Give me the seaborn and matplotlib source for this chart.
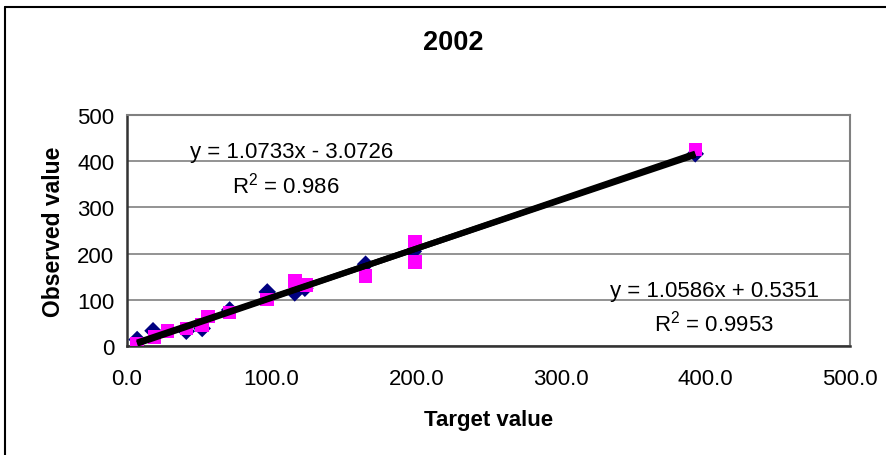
import numpy as np
import pandas as pd
import matplotlib
matplotlib.use("Agg")
import matplotlib.pyplot as plt
from matplotlib.lines import Line2D
from matplotlib.ticker import FormatStrFormatter
import seaborn as sns

# ---- data ----
title = "2002"
x_label = "Target value"
y_label = "Observed value"

navy_x = [7, 18, 41, 52, 71, 97, 116, 123, 165, 198, 393]
navy_y = [14, 33, 32, 38, 78, 117, 115, 125, 177, 205, 416]

magenta_x = [7, 19, 28, 41, 52, 56, 71, 97, 116, 124, 165, 199, 199, 393]
magenta_y = [5, 19, 33, 38, 45, 64, 73, 101, 141, 132, 152, 225, 182, 425]

eq1_text = "y = 1.0733x - 3.0726"
r1_text = "R$^2$ = 0.986"
eq2_text = "y = 1.0586x + 0.5351"
r2_text = "R$^2$ = 0.9953"

x_ticks = [0, 100, 200, 300, 400, 500]
y_ticks = [0, 100, 200, 300, 400, 500]

# ---- style ----
sns.set_theme(style="white")
plt.rcParams["font.family"] = ["Liberation Sans", "DejaVu Sans"]
plt.rcParams["mathtext.fontset"] = "custom"
plt.rcParams["mathtext.rm"] = "Liberation Sans"
plt.rcParams["mathtext.it"] = "Liberation Sans"
plt.rcParams["text.color"] = "black"
plt.rcParams["axes.labelcolor"] = "black"
plt.rcParams["xtick.color"] = "black"
plt.rcParams["ytick.color"] = "black"

W, H = 886, 456
fig = plt.figure(figsize=(W / 100, H / 100), dpi=100)
fig.patch.set_facecolor("white")
ax = fig.add_axes([127 / W, 1 - 347 / H, (850 - 127) / W, (347 - 116) / H])

df1 = pd.DataFrame({"x": navy_x, "y": navy_y})
df2 = pd.DataFrame({"x": magenta_x, "y": magenta_y})

sns.scatterplot(data=df1, x="x", y="y", marker="D", s=80, color="#000080",
                edgecolor="none", linewidth=0, ax=ax, zorder=3)
sns.scatterplot(data=df2, x="x", y="y", marker="s", s=95, color="#FF00FF",
                edgecolor="none", linewidth=0, ax=ax, zorder=4)
sns.regplot(data=df1, x="x", y="y", scatter=False, ci=None, truncate=True,
            line_kws=dict(color="black", lw=4.3, zorder=5, solid_capstyle="butt"), ax=ax)
sns.regplot(data=df2, x="x", y="y", scatter=False, ci=None, truncate=True,
            line_kws=dict(color="black", lw=4.3, zorder=5, solid_capstyle="butt"), ax=ax)

ax.set_xlim(0, 500)
ax.set_ylim(0, 500)
ax.set_xticks(x_ticks)
ax.set_yticks(y_ticks)
ax.xaxis.set_major_formatter(FormatStrFormatter("%.1f"))
ax.yaxis.grid(True, color="#808080", lw=1.2)
ax.set_axisbelow(True)
ax.tick_params(axis="both", labelsize=16, colors="black", direction="out",
               length=6, width=1.2, pad=4)
ax.tick_params(axis="x", pad=10)
ax.tick_params(axis="y", pad=3)
for s in ["top", "right"]:
    ax.spines[s].set_color("#808080")
    ax.spines[s].set_linewidth(1.5)
for s in ["left", "bottom"]:
    ax.spines[s].set_color("#333333")
    ax.spines[s].set_linewidth(1.8)

ax.set_xlabel(x_label, fontsize=16, fontweight="bold", labelpad=14)
ax.set_ylabel(y_label, fontsize=16.5, fontweight="bold", labelpad=9)

ax.text(114, 421, eq1_text, fontsize=16, ha="center", va="center", zorder=6)
ax.text(110, 350, r1_text, fontsize=16, ha="center", va="center", zorder=6)
ax.text(406, 120, eq2_text, fontsize=16, ha="center", va="center", zorder=6)
ax.text(406, 50, r2_text, fontsize=16, ha="center", va="center", zorder=6)

fig.text(453 / W, 1 - 43 / H, title, fontsize=19.5, fontweight="bold",
         ha="center", va="center")

# outer chart frame (extends past the right/bottom edges)
fig.add_artist(Line2D([5 / W, 5 / W], [0, 1 - 8 / H], color="black", lw=1.5,
                      transform=fig.transFigure))
fig.add_artist(Line2D([5 / W, 1], [1 - 8 / H, 1 - 8 / H], color="black", lw=1.5,
                      transform=fig.transFigure))

fig.savefig("out.png", dpi=100)
